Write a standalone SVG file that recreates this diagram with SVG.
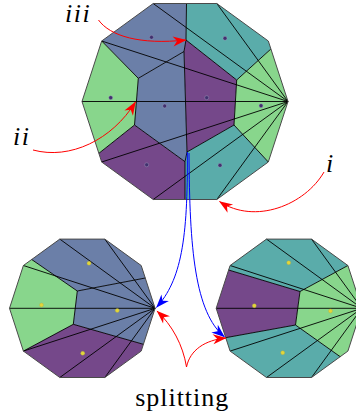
<svg xmlns="http://www.w3.org/2000/svg" width="356" height="414" viewBox="0 0 356 414">
<style>
.pu{fill:#75488a}.bl{fill:#6b7fa8}.te{fill:#5aacaa}.gr{fill:#88d68c}
.bd{fill:none;stroke:#000;stroke-width:0.9;stroke-linejoin:round}
.ol{fill:none;stroke:#4a4a4a;stroke-width:1}
.dk{fill:#41306e;stroke:#a0a0c0;stroke-width:0.6;stroke-opacity:0.7}
.yl{fill:#e2d63a;stroke:#b0a840;stroke-width:0.5;stroke-opacity:0.7}
.red{fill:none;stroke:#ff0000;stroke-width:1}
.blu{fill:none;stroke:#0000ff;stroke-width:1}
.lab{font-family:"Liberation Serif",serif;font-size:26px;fill:#000}
</style>
<defs>
<marker id="ar" viewBox="-14 -6 15 12" refX="0" refY="0" markerWidth="15" markerHeight="12" markerUnits="userSpaceOnUse" orient="auto"><path d="M0.5,0 L-13,-5 L-9,0 L-13,5 Z" fill="#ff0000"/></marker>
<marker id="ab" viewBox="-14 -6 15 12" refX="0" refY="0" markerWidth="15" markerHeight="12" markerUnits="userSpaceOnUse" orient="auto"><path d="M0.5,0 L-13,-5 L-9,0 L-13,5 Z" fill="#0000ff"/></marker>
</defs>

<g id="top-decagon">
<polygon class="bl" points="153.2,3.5 186.5,3.5 186,40 184,51.5 138.3,78.3 101.7,41"/>
<polygon class="te" points="186.5,3.5 216.8,3.5 268.3,41 270.9,49 236.7,80 186,40"/>
<polygon class="pu" points="186,40 236.7,80 234,125 187,152 184,51.5"/>
<polygon class="gr" points="236.7,80 270.9,49 288,101.5 268.3,162 234,125"/>
<polygon class="te" points="187,152 234,125 268.3,162 216.8,199.5 185,199.5 185,161.7"/>
<polygon class="pu" points="134.5,125 185,161.7 185,199.5 153.2,199.5 101.7,162 98.9,153.3"/>
<polygon class="bl" points="138.3,78.3 184,51.5 187,152 185,161.7 134.5,125"/>
<polygon class="gr" points="101.7,41 138.3,78.3 134.5,125 98.9,153.3 82,101.5"/>
<path class="bd" d="M186.5,3.5 L186,40 L184,51.5 L187,152 L185,161.7 L185,199.5 M184,51.5 L138.3,78.3 L101.7,41 M138.3,78.3 L134.5,125 L98.9,153.3 M134.5,125 L185,161.7 M186,40 L236.7,80 L270.9,49 M236.7,80 L234,125 L268.3,162 M234,125 L187,152"/>
<path class="bd" d="M288,101.5 L216.8,3.5 M288,101.5 L153.2,3.5 M288,101.5 L101.7,41 M288,101.5 L82,101.5 M288,101.5 L101.7,162 M288,101.5 L153.2,199.5 M288,101.5 L216.8,199.5"/>
<polygon class="ol" points="288,101.5 268.3,41 216.8,3.5 153.2,3.5 101.7,41 82,101.5 101.7,162 153.2,199.5 216.8,199.5 268.3,162"/>
<circle class="dk" cx="151.5" cy="37.3" r="2"/>
<circle class="dk" cx="225" cy="38.3" r="2"/>
<circle class="dk" cx="110.7" cy="97.7" r="2"/>
<circle class="dk" cx="164.7" cy="106" r="2"/>
<circle class="dk" cx="206.7" cy="97.7" r="2"/>
<circle class="dk" cx="261" cy="105.7" r="2"/>
<circle class="dk" cx="146.7" cy="164.8" r="2"/>
<circle class="dk" cx="220" cy="165.3" r="2"/>
</g>

<g id="left-decagon">
<polygon class="gr" points="9.5,308.3 23.4,265.5 31.7,259.5 77.3,291 73.3,324.3 23.4,351.1"/>
<polygon class="bl" points="31.7,259.5 59.8,239.1 104.8,239.1 141.2,265.5 145.3,278 77.3,291"/>
<polygon class="bl" points="77.3,291 145.3,278 155.1,308.3 143.4,344.3 73.3,324.3"/>
<polygon class="pu" points="73.3,324.3 143.4,344.3 141.2,351.1 104.8,377.5 59.8,377.5 23.4,351.1"/>
<path class="bd" d="M31.7,259.5 L77.3,291 L73.3,324.3 L23.4,351.1 M77.3,291 L145.3,278 M73.3,324.3 L143.4,344.3"/>
<path class="bd" d="M155.1,308.3 L104.8,239.1 M155.1,308.3 L59.8,239.1 M155.1,308.3 L23.4,265.5 M155.1,308.3 L9.5,308.3 M155.1,308.3 L23.4,351.1 M155.1,308.3 L59.8,377.5 M155.1,308.3 L104.8,377.5"/>
<polygon class="ol" points="155.1,308.3 141.2,265.5 104.8,239.1 59.8,239.1 23.4,265.5 9.5,308.3 23.4,351.1 59.8,377.5 104.8,377.5 141.2,351.1"/>
<circle class="yl" cx="89" cy="263.3" r="2"/>
<circle class="yl" cx="41.5" cy="305" r="2"/>
<circle class="yl" cx="117.3" cy="310.5" r="2"/>
<circle class="yl" cx="82.7" cy="353.3" r="2"/>
</g>

<g id="right-decagon">
<polygon class="te" points="228.6,270 230.1,265.5 266.5,239.1 311.5,239.1 347.9,265.5 300,291.5"/>
<polygon class="pu" points="228.6,270 300,291.5 295.5,325 225.7,337.7 216.2,308.3"/>
<polygon class="gr" points="300,291.5 347.9,265.5 361.8,308.3 347.9,351.1 340.2,356.7 295.5,325"/>
<polygon class="te" points="295.5,325 340.2,356.7 311.5,377.5 266.5,377.5 230.1,351.1 225.7,337.7"/>
<path class="bd" d="M228.6,270 L300,291.5 L295.5,325 L225.7,337.7 M300,291.5 L347.9,265.5 M295.5,325 L340.2,356.7"/>
<path class="bd" d="M361.8,308.3 L311.5,239.1 M361.8,308.3 L266.5,239.1 M361.8,308.3 L230.1,265.5 M361.8,308.3 L216.2,308.3 M361.8,308.3 L230.1,351.1 M361.8,308.3 L266.5,377.5 M361.8,308.3 L311.5,377.5"/>
<polygon class="ol" points="361.8,308.3 347.9,265.5 311.5,239.1 266.5,239.1 230.1,265.5 216.2,308.3 230.1,351.1 266.5,377.5 311.5,377.5 347.9,351.1"/>
<circle class="yl" cx="288.7" cy="262.7" r="2"/>
<circle class="yl" cx="254.3" cy="305.7" r="2"/>
<circle class="yl" cx="330.5" cy="311" r="2"/>
<circle class="yl" cx="282.7" cy="352.7" r="2"/>
</g>

<g id="connectors">
<path class="red" d="M98.5,20 C110,36 140,45 186,40" marker-end="url(#ar)"/>
<path class="red" d="M33,150 C70,160 112,140 135.5,102" marker-end="url(#ar)"/>
<path class="red" d="M324,172 C305,205 255,225 219.5,201.5" marker-end="url(#ar)"/>
<path class="blu" d="M187.3,152 C188,240 181,280 156.5,307.5" marker-end="url(#ab)"/>
<path class="blu" d="M189,153 C189.5,250 195,312 224.5,337" marker-end="url(#ab)"/>
<path class="red" d="M186.5,367 C183,345 172,325 157,311" marker-end="url(#ar)"/>
<path class="red" d="M186.5,367 C190,350 205,340 226,338" marker-end="url(#ar)"/>
</g>

<g id="labels">
<text class="lab" x="65" y="21.5" font-style="italic" letter-spacing="1.5">iii</text>
<text class="lab" x="13" y="145" font-style="italic" letter-spacing="1.5">ii</text>
<text class="lab" x="326" y="172" font-style="italic">i</text>
<text class="lab" x="181.7" y="405.5" text-anchor="middle" textLength="93" lengthAdjust="spacing">splitting</text>
</g>
</svg>
